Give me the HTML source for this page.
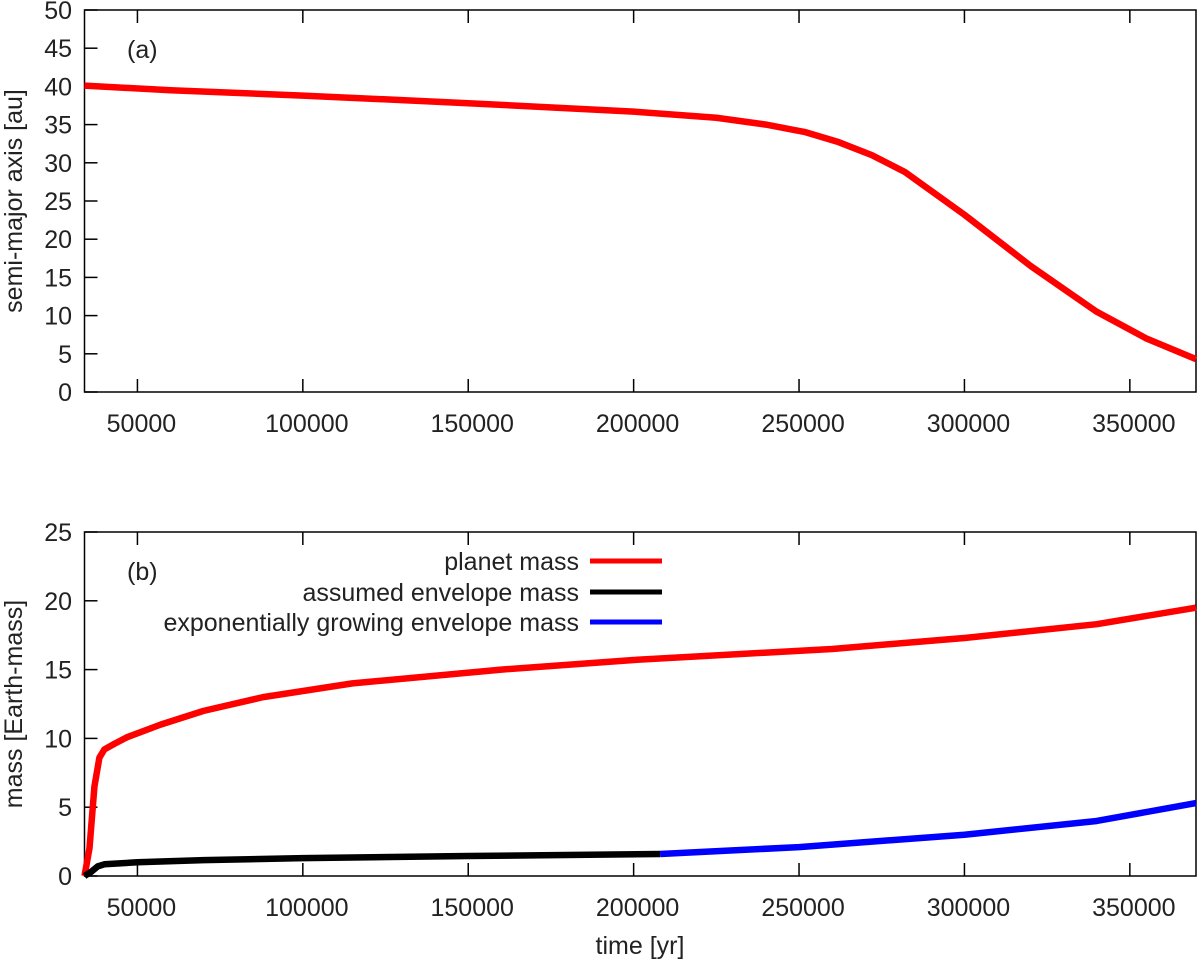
<!DOCTYPE html>
<html><head><meta charset="utf-8"><style>
body{margin:0;background:#fff}
svg text{font-family:"Liberation Sans",sans-serif;font-size:25px;fill:#222}
</style></head><body>
<svg width="1200" height="969">
<g id="g"></g>
</svg>
<script>
const xTicks=[50000,100000,150000,200000,250000,300000,350000];
const aTicks=[0,5,10,15,20,25,30,35,40,45,50];
const mTicks=[0,5,10,15,20,25];
const aT=[34000,60000,100000,150000,200000,225000,240000,252000,262000,272000,282000,300000,320000,340000,355000,370000];
const aV=[40.1,39.5,38.8,37.8,36.7,35.9,35.0,34.0,32.7,31.0,28.8,23.2,16.5,10.5,7.0,4.3];
const pT=[34000,35500,37000,38500,40000,43000,47000,57000,70000,88000,115000,160000,200000,260000,300000,340000,370000];
const pV=[0,2,6.5,8.6,9.2,9.6,10.1,11,12,13,14,15,15.7,16.5,17.3,18.3,19.5];
const eT=[34000,36000,38000,40000,50000,70000,100000,150000,208000];
const eV=[0,0.3,0.7,0.85,1.0,1.15,1.3,1.45,1.6];
const bT=[208000,250000,300000,340000,370000];
const bV=[1.6,2.1,3.0,4.0,5.3];
const NS='http://www.w3.org/2000/svg',G=document.getElementById('g');
const L=84.5,R=1196,X0=34000,X1=370000;
const sx=v=>L+(v-X0)/(X1-X0)*(R-L);
function el(t,a,txt){const e=document.createElementNS(NS,t);for(const k in a)e.setAttribute(k,a[k]);if(txt!=null)e.textContent=txt;G.appendChild(e);return e;}
function panel(top,bot,ymax,yt,name,title,ttlY,lab){
 const sy=v=>bot-v/ymax*(bot-top);
 const f=el('rect',{x:L,y:top,width:R-L,height:bot-top,fill:'none',stroke:'#000','stroke-width':1.5});
 
 yt.forEach(v=>{el('line',{x1:L,x2:L+13,y1:sy(v),y2:sy(v),stroke:'#000','stroke-width':1.5});
  const t=el('text',{x:72,y:sy(v)+9,'text-anchor':'end'},v);});
 xTicks.forEach(v=>{el('line',{x1:sx(v),x2:sx(v),y1:bot,y2:bot-13,stroke:'#000','stroke-width':1.5});el('line',{x1:sx(v),x2:sx(v),y1:top,y2:top+13,stroke:'#000','stroke-width':1.5});
  const t=el('text',{x:sx(v)+4,y:bot+40,'text-anchor':'middle'},v);});
 const yt2=el('text',{x:0,y:0,transform:`translate(22,${ttlY}) rotate(-90)`,'text-anchor':'middle'},title);
 
 const l=el('text',{x:127,y:top+48},lab);
 return sy;
}
function line(T,V,sy,c,n){const p=el('polyline',{points:T.map((t,i)=>sx(t)+','+sy(V[i])).join(' '),fill:'none',stroke:c,'stroke-width':6.5,'stroke-linejoin':'round'});
 }
const sa=panel(10,392,50,aTicks,'top-panel','semi-major axis [au]',201,'(a)');
line(aT,aV,sa,'#f00','semi-major-axis-line');
const sm=panel(532,876,25,mTicks,'bottom-panel','mass [Earth-mass]',704,'(b)');
line(pT,pV,sm,'#f00','planet-mass-line');
line(bT,bV,sm,'#00f','exp-envelope-mass-line');
line(eT,eV,sm,'#000','assumed-envelope-mass-line');
const leg=[['planet mass','#f00',561],['assumed envelope mass','#000',592],['exponentially growing envelope mass','#00f',622]];
leg.forEach(([s,c,y])=>{const t=el('text',{x:579,y:y+9,'text-anchor':'end'},s);
 const l=el('line',{x1:590,x2:662,y1:y,y2:y,stroke:c,'stroke-width':5});});
const xt=el('text',{x:640,y:954,'text-anchor':'middle'},'time [yr]');

</script>
</body></html>
